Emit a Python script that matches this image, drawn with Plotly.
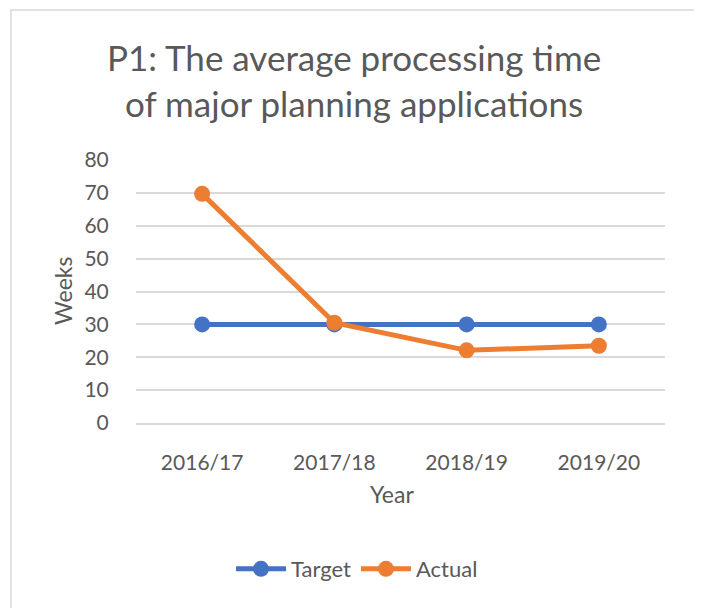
import plotly.graph_objects as go

years = ["2016/17", "2017/18", "2018/19", "2019/20"]
target = [30, 30, 30, 30]
actual = [69.7, 30.5, 22.1, 23.5]
y_ticks = [0, 10, 20, 30, 40, 50, 60, 70, 80]

BLUE = "#4472C4"
ORANGE = "#ED7D31"
GRID = "#D9D9D9"
TEXT = "#595959"
FONT = "Lato"

fig = go.Figure()
fig.add_trace(go.Scatter(x=years, y=target, name="Target", mode="lines+markers",
                         line=dict(color=BLUE, width=5),
                         marker=dict(color=BLUE, size=16)))
fig.add_trace(go.Scatter(x=years, y=actual, name="Actual", mode="lines+markers",
                         line=dict(color=ORANGE, width=5),
                         marker=dict(color=ORANGE, size=16)))

# page body has an 8px margin: work in window pixels, offset into figure pixels
OFF = 8
W, H = 702 - OFF, 608 - OFF
L, R, T, B = 136 - OFF, 665 - OFF, 160 - OFF, 423 - OFF
pw, ph = R - L, B - T

def px(x):
    return (x - OFF - L) / pw

def py(y):
    return (B - (y - OFF)) / ph

fig.update_layout(
    width=W, height=H,
    margin=dict(l=L, r=W - R, t=T, b=H - B, autoexpand=False),
    paper_bgcolor="white", plot_bgcolor="white",
    font=dict(family=FONT, color=TEXT, size=20),
    showlegend=True,
    legend=dict(orientation="h", xref="container", x=(357 - OFF) / W, xanchor="center",
                yref="container", y=(H - (569 - OFF)) / H, yanchor="middle",
                font=dict(size=22, color=TEXT), itemwidth=50),
    xaxis=dict(type="category", range=[-0.5, 3.5], showgrid=False,
               showline=True, linecolor=GRID, linewidth=1.5, zeroline=False,
               ticks="outside", ticklen=20, tickcolor="rgba(0,0,0,0)",
               tickangle=0, tickfont=dict(size=21, color=TEXT)),
    yaxis=dict(range=[0, 80], tickvals=y_ticks, showgrid=True, gridcolor=GRID,
               gridwidth=1.5, zeroline=False, showline=False,
               ticks="outside", ticklen=22, tickcolor="rgba(0,0,0,0)",
               tickfont=dict(size=21, color=TEXT)),
    annotations=[
        dict(text="P1: The average processing time<br>of major planning applications",
             xref="paper", yref="paper", x=px(354), y=py(80),
             xanchor="center", yanchor="middle", showarrow=False,
             font=dict(size=35, color=TEXT, family=FONT)),
        dict(text="Weeks", xref="paper", yref="paper", x=px(63), y=py(291),
             xanchor="center", yanchor="middle", textangle=-90, showarrow=False,
             font=dict(size=23, color=TEXT)),
        dict(text="Year", xref="paper", yref="paper", x=px(392), y=py(494),
             xanchor="center", yanchor="middle", showarrow=False,
             font=dict(size=23, color=TEXT)),
    ],
    shapes=[
        dict(type="rect", xref="paper", yref="paper",
             x0=px(11), x1=px(696), y0=py(640), y1=py(10),
             line=dict(color=GRID, width=1.5), fillcolor="rgba(0,0,0,0)", layer="below"),
    ],
)

fig.write_html("out.html")
